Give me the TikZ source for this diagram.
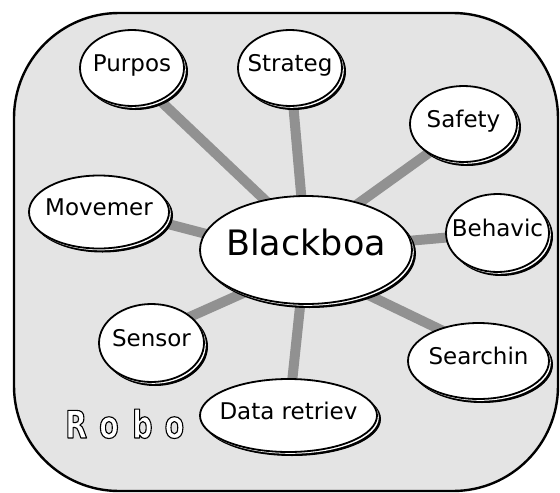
\documentclass[tikz,border=0pt]{standalone}
\usepackage{fontspec}
\setmainfont{DejaVu Sans}
\newfontfamily\robofont[FakeStretch=0.75]{DejaVu Sans}
\usetikzlibrary{shapes.geometric,shadows,calc}
\pgfdeclarelayer{background}
\pgfsetlayers{background,main}
\definecolor{panel}{RGB}{228,228,228}
\definecolor{link}{RGB}{145,145,145}
\newcommand\lbl[1]{\makebox[0pt]{#1}}
\newcommand\outlinedtext[1]{%
  {\color{white}\special{pdf:literal direct 0 G 1.1 w 1 j 2 Tr}#1\special{pdf:literal direct 0 Tr}}}
\begin{document}
\begin{tikzpicture}[x=1pt,y=-1pt,
  bubble/.style={ellipse, draw=black, line width=1.8pt, fill=white, inner sep=0pt,
    font=\fontsize{23}{27}\selectfont, text height=17pt, text depth=10pt,
    general shadow={shadow xshift=3.5pt, shadow yshift=-3.5pt, fill=black, draw=black, line width=1pt},
    general shadow={shadow xshift=1.8pt, shadow yshift=-1.8pt, fill=white, draw=none}},
  bigbubble/.style={bubble, font=\fontsize{35}{40}\selectfont, text height=26pt, text depth=16pt},
  conn/.style={draw=link, line width=10pt},
  frame/.style={draw=black, line width=2.4pt, fill=panel, rounded corners=105pt}]
\useasboundingbox (0,0) rectangle (560,493);

\node[bigbubble, minimum width=212pt, minimum height=108pt] (bb) at (306,250) {\lbl{Blackboa}};
\node[bubble, minimum width=104pt, minimum height=76pt] (pur) at (132,68) {\lbl{Purpos}};
\node[bubble, minimum width=104pt, minimum height=76pt] (str) at (290,68) {\lbl{Strateg}};
\node[bubble, minimum width=107pt, minimum height=76pt] (saf) at (463.5,124) {\lbl{Safety}};
\node[bubble, minimum width=140pt, minimum height=73pt] (mov) at (99,212) {\lbl{Movemer}};
\node[bubble, minimum width=103pt, minimum height=78pt] (beh) at (497.5,233) {\lbl{Behavic}};
\node[bubble, minimum width=105pt, minimum height=78pt] (sen) at (151.5,343) {\lbl{Sensor}};
\node[bubble, minimum width=177pt, minimum height=73pt] (dat) at (288.5,415.5) {\lbl{Data retriev}};
\node[bubble, minimum width=141pt, minimum height=76pt] (sea) at (478.5,361) {\lbl{Searchin}};

\begin{pgfonlayer}{background}
  \path[frame] (14,13) rectangle (558,491);
  \draw[conn] ($(bb)+(0,-11)$) -- ($(pur)+(0,6)$);
  \draw[conn] (bb.center) -- (str.center);
  \draw[conn] ($(bb)+(0,-9)$) -- ($(saf)+(0,4)$);
  \draw[conn] ($(bb)+(0,10)$) -- ($(mov)+(0,-6)$);
  \draw[conn] (bb.center) -- (beh.center);
  \draw[conn] ($(bb)+(0,15)$) -- ($(sen)+(0,-9)$);
  \draw[conn] (bb.center) -- (dat.center);
  \draw[conn] ($(bb)+(0,15)$) -- ($(sea)+(0,-13)$);
\end{pgfonlayer}

\node[anchor=base west, inner sep=0pt, font=\robofont\bfseries\fontsize{38}{40}\selectfont] (robo) at (65,438)
  {\outlinedtext{R\hspace{12pt}o\hspace{13.5pt}b\hspace{12pt}o}};
\end{tikzpicture}
\end{document}
